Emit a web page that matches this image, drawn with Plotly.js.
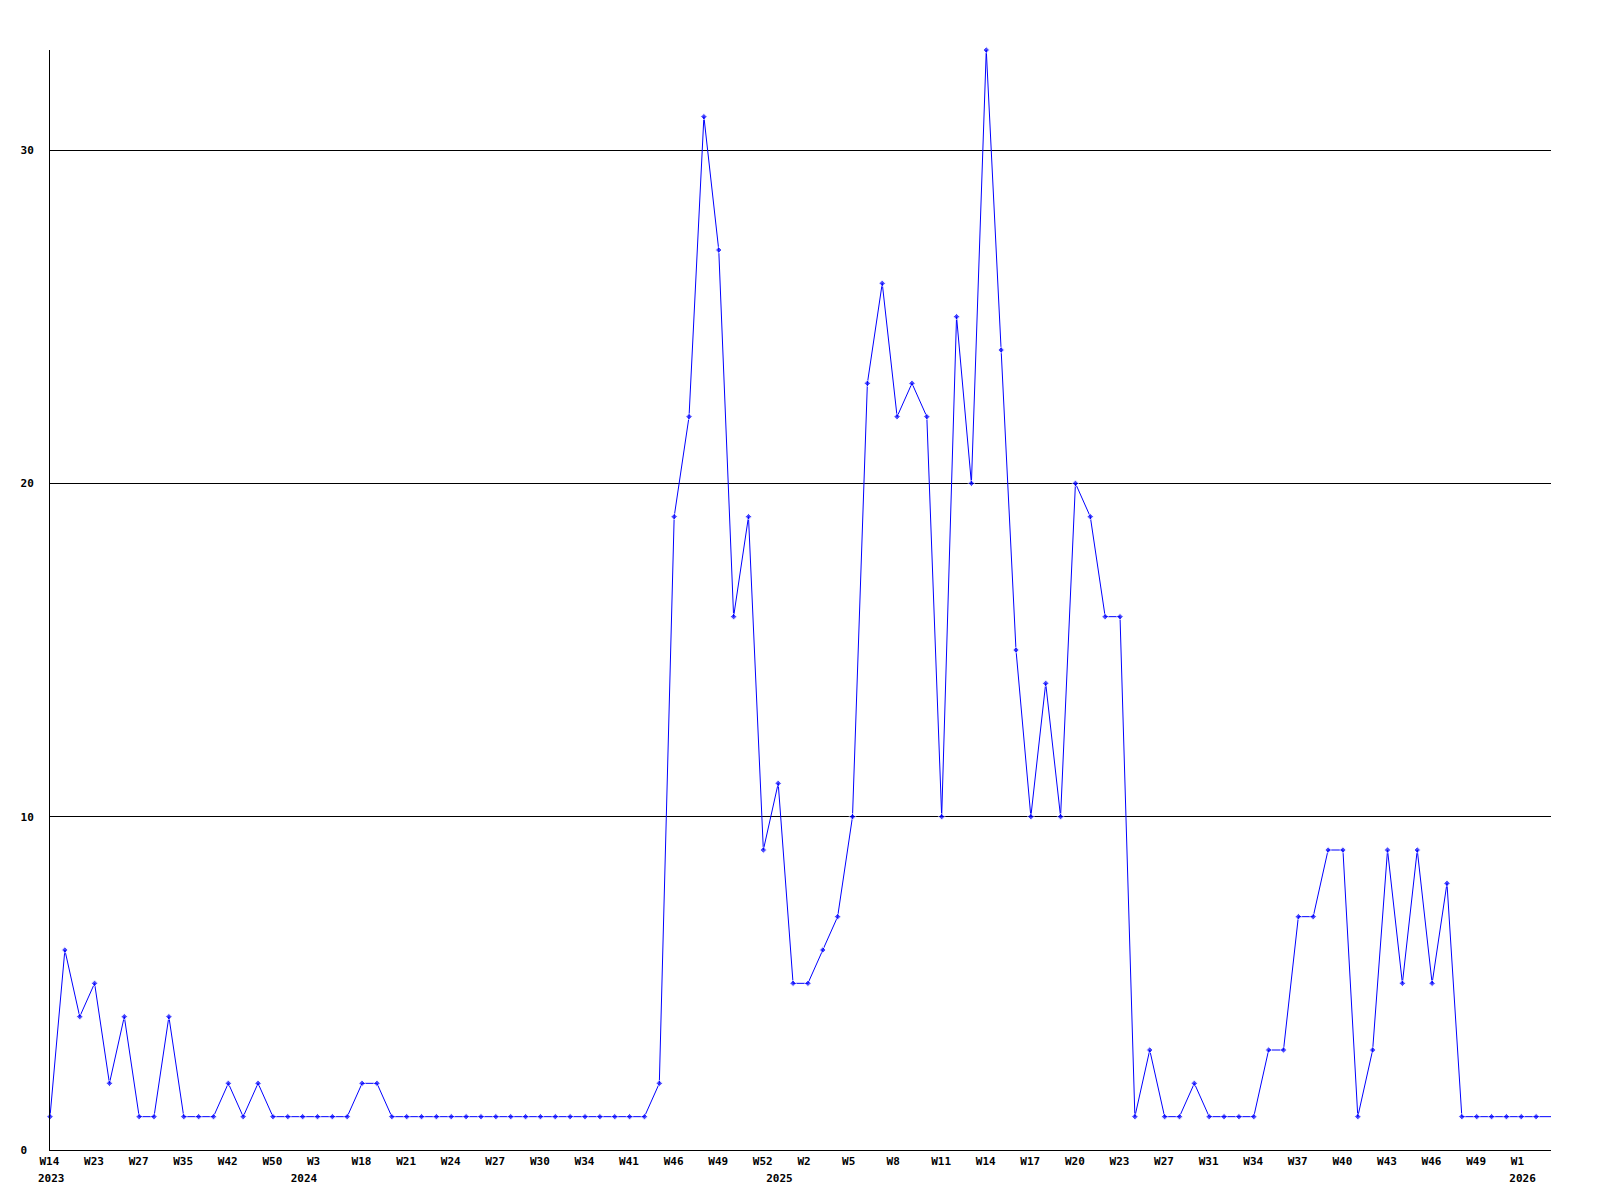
<!DOCTYPE html>
<html>
<head>
<meta charset="utf-8">
<script src="https://cdn.plot.ly/plotly-3.0.1.min.js"></script>
<style>html,body{margin:0;padding:0;background:#fff;}#chart{width:1600px;height:1200px;}</style>
</head>
<body>
<div id="chart"></div>
<script>
// Weekly counts, one per plotted point (point index 0..101)
const values = [
  1,6,4,5,2,4,1,1,4,1,
  1,1,2,1,2,1,1,1,1,1,
  1,2,2,1,1,1,1,1,1,1,
  1,1,1,1,1,1,1,1,1,1,
  1,2,19,22,31,27,16,19,9,11,
  5,5,6,7,10,23,26,22,23,22,
  10,25,20,33,24,15,10,14,10,20,
  19,16,16,1,3,1,1,2,1,1,
  1,1,3,3,7,7,9,9,1,3,
  9,5,9,5,8,1,1,1,1,1,
  1,1
];
// Week tick labels: every third point carries a week label
const weekLabels = ["W14","W23","W27","W35","W42","W50","W3","W18","W21","W24","W27","W30","W34","W41","W46","W49","W52",
                    "W2","W5","W8","W11","W14","W17","W20","W23","W27","W31","W34","W37","W40","W43","W46","W49","W1"];
const labelStep = 3;
// Year labels and the point index of the first week of each year
const yearLabels = ["2023","2024","2025","2026"];
const yearIndex = [0, 17, 49, 99];
const yTicks = [0,10,20,30];

const xIdx = values.map((_, i) => i);
const tickvals = weekLabels.map((_, i) => i * labelStep);
const markerSizes = values.map((_, i) => i === values.length - 1 ? 0 : 5);

const font = {family: "DejaVu Sans Mono, Liberation Mono, monospace", size: 11, color: "#000000", weight: "bold"};
const xRange = [0, values.length - 1];

const trace = {
  x: xIdx, y: values, type: "scatter", mode: "lines+markers",
  line: {color: "#0000ff", width: 1},
  marker: {color: "#0000ff", size: markerSizes, symbol: "diamond"},
  cliponaxis: false,
  hoverinfo: "skip"
};
// Carrier trace for the year-label axis (draws nothing)
const yearAxisTrace = {
  x: yearIndex, y: yearIndex.map(() => 0), type: "scatter", mode: "none",
  xaxis: "x2", yaxis: "y", hoverinfo: "skip", showlegend: false
};

const layout = {
  width: 1600, height: 1200,
  margin: {l: 50, r: 49, t: 50, b: 50, pad: 0},
  paper_bgcolor: "#ffffff", plot_bgcolor: "#ffffff",
  showlegend: false,
  font: font,
  xaxis: {
    range: xRange,
    tickmode: "array", tickvals: tickvals, ticktext: weekLabels,
    showgrid: false, zeroline: false,
    showline: true, linecolor: "#000000", linewidth: 1,
    ticks: "", tickfont: font,
    ticklabelposition: "outside right",
    ticklabelshift: -11,
    ticklabelstandoff: 1,
    fixedrange: true
  },
  xaxis2: {
    overlaying: "x", anchor: "y", side: "bottom",
    range: xRange,
    tickmode: "array", tickvals: yearIndex, ticktext: yearLabels.map(t => "\u00a0<br>" + t),
    showgrid: false, zeroline: false, showline: false,
    ticks: "", tickfont: font,
    ticklabelposition: "outside right",
    ticklabelshift: -12,
    ticklabelstandoff: 6,
    fixedrange: true
  },
  yaxis: {
    range: [0, 33],
    tickmode: "array", tickvals: yTicks, ticktext: yTicks.map(v => v < 10 ? v + "\u00a0" : String(v)),
    showgrid: true, gridcolor: "#000000", gridwidth: 1,
    zeroline: false,
    showline: true, linecolor: "#000000", linewidth: 1,
    ticks: "", tickfont: font,
    ticklabelstandoff: 13,
    fixedrange: true
  }
};

Plotly.newPlot("chart", [trace, yearAxisTrace], layout, {displayModeBar: false, staticPlot: true});
</script>
</body>
</html>
